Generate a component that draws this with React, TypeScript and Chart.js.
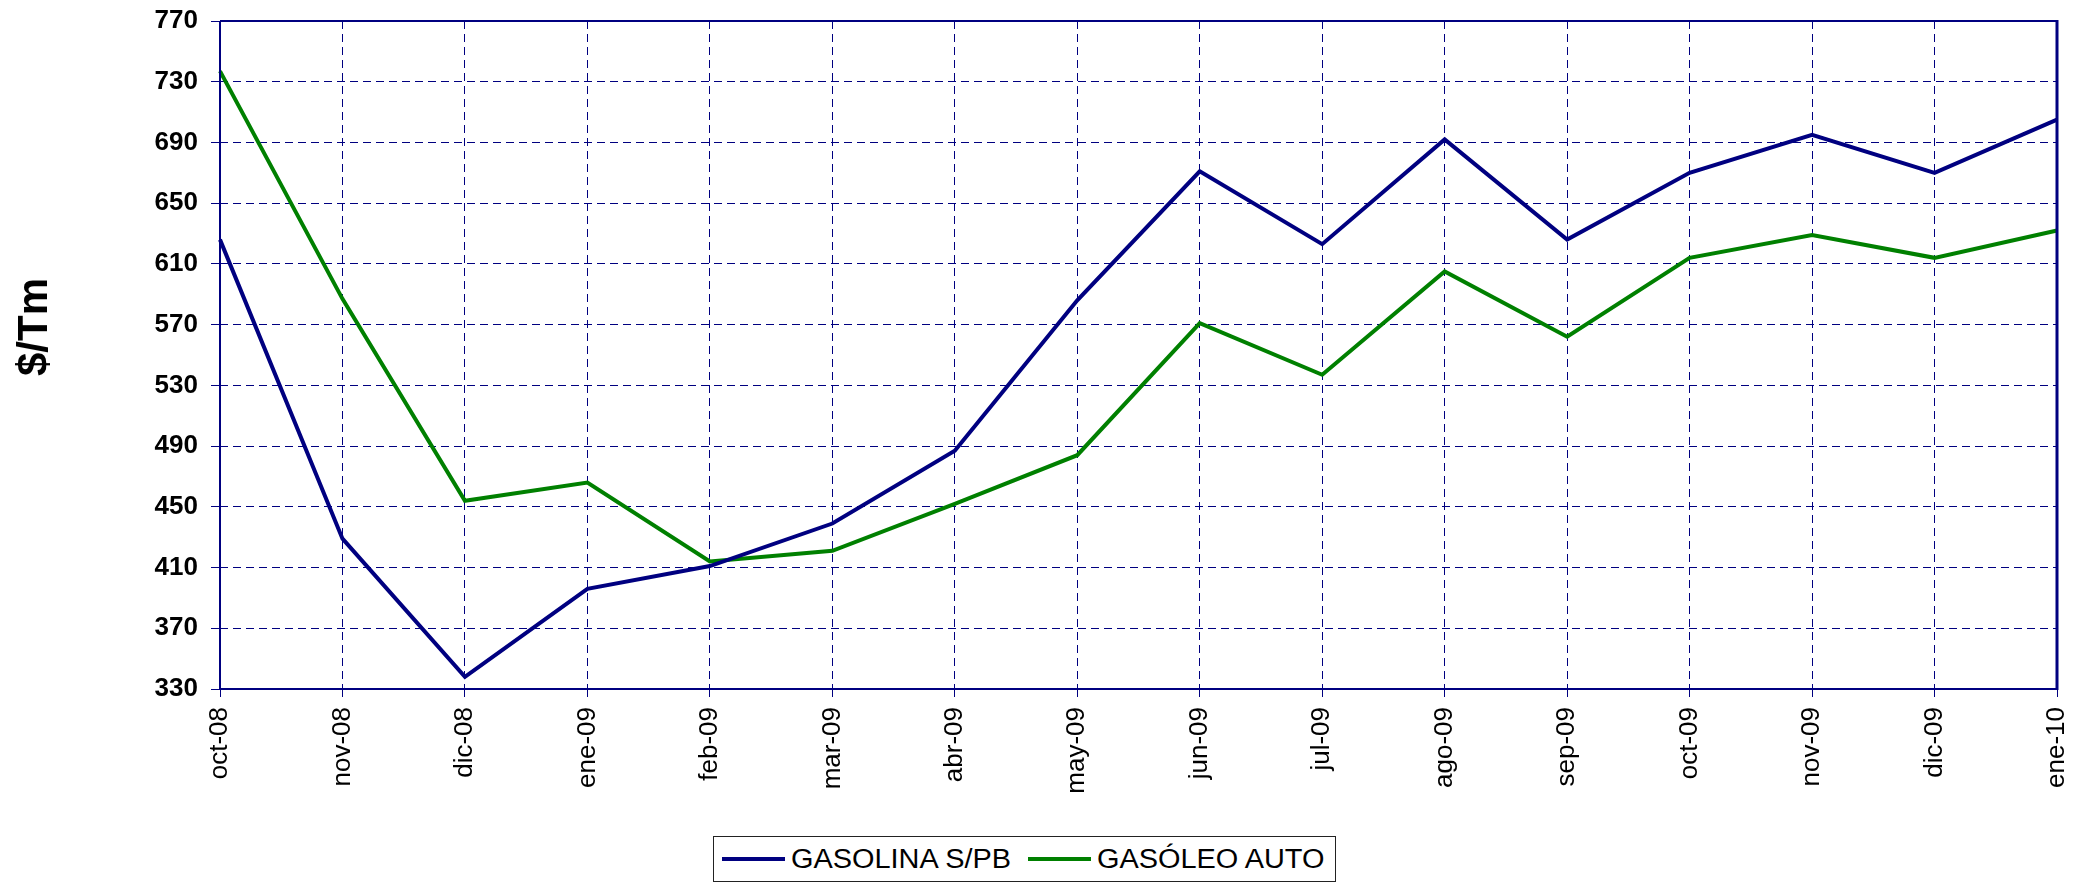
import React, { useEffect, useRef } from "react";
import { Chart, registerables } from "chart.js";

Chart.register(...registerables);

const categories = [
  "oct-08", "nov-08", "dic-08", "ene-09", "feb-09", "mar-09", "abr-09", "may-09",
  "jun-09", "jul-09", "ago-09", "sep-09", "oct-09", "nov-09", "dic-09", "ene-10",
];
const gasolinaLabel = "GASOLINA S/PB";
const gasoleoLabel = "GASÓLEO AUTO";
const gasolina = [626, 429, 338, 396, 411, 439, 487, 586, 671, 623, 692, 626, 670, 695, 670, 705];
const gasoleo = [737, 587, 454, 466, 414, 421, 452, 484, 571, 537, 605, 562, 614, 629, 614, 632];
const yMin = 330;
const yMax = 770;
const yStep = 40;
const yTitle = "$/Tm";

const NAVY = "#000080";
const GREEN = "#008000";
const FONT = "'Liberation Sans', Arial, sans-serif";

const framePlugin = {
  id: "frame",
  afterDatasetsDraw(chart: any) {
    const { ctx, chartArea } = chart;
    const { left, right, top, bottom } = chartArea;
    ctx.save();
    ctx.strokeStyle = NAVY;
    ctx.lineWidth = 2;
    ctx.beginPath();
    ctx.moveTo(left, top);
    ctx.lineTo(right, top);
    ctx.moveTo(left, top);
    ctx.lineTo(left, bottom);
    ctx.moveTo(left, bottom);
    ctx.lineTo(right, bottom);
    ctx.stroke();
    ctx.lineWidth = 3;
    ctx.beginPath();
    ctx.moveTo(right, top - 1);
    ctx.lineTo(right, bottom + 1);
    ctx.stroke();
    ctx.restore();
  },
};

export default function App() {
  const ref = useRef<HTMLCanvasElement | null>(null);

  useEffect(() => {
    document.body.style.margin = "0";
    const canvas = ref.current;
    if (!canvas) return;
    const chart = new Chart(canvas, {
      type: "line",
      data: {
        labels: categories,
        datasets: [
          {
            label: gasolinaLabel,
            data: gasolina,
            borderColor: NAVY,
            backgroundColor: NAVY,
            borderWidth: 4,
            pointRadius: 0,
            tension: 0,
          },
          {
            label: gasoleoLabel,
            data: gasoleo,
            borderColor: GREEN,
            backgroundColor: GREEN,
            borderWidth: 4,
            pointRadius: 0,
            tension: 0,
          },
        ],
      },
      options: {
        responsive: false,
        animation: false,
        devicePixelRatio: 1,
        layout: { padding: { left: 0, right: 21, top: 21, bottom: 0 } },
        plugins: {
          legend: { display: false },
          tooltip: { enabled: false },
        },
        scales: {
          x: {
            type: "category",
            offset: false,
            afterFit: (scale: any) => {
              scale.height = 193;
              scale.paddingLeft = 0;
              scale.paddingRight = 0;
            },
            grid: {
              color: NAVY,
              lineWidth: 1,
              tickBorderDash: [],
              tickLength: 8,
              tickColor: NAVY,
              offset: false,
            },
            border: { display: false, dash: [8, 5] },
            ticks: {
              autoSkip: false,
              minRotation: 90,
              maxRotation: 90,
              color: "#000",
              padding: 10,
              font: { family: FONT, size: 26 },
            },
          },
          y: {
            min: yMin,
            max: yMax,
            afterFit: (scale: any) => {
              scale.width = 220;
              scale.paddingTop = 0;
              scale.paddingBottom = 0;
            },
            grid: {
              color: NAVY,
              lineWidth: 1,
              tickBorderDash: [],
              tickLength: 9,
              tickColor: NAVY,
            },
            border: { display: false, dash: [8, 5] },
            ticks: {
              stepSize: yStep,
              color: "#000",
              padding: 13,
              font: { family: FONT, size: 26, weight: "bold" },
            },
          },
        },
      },
      plugins: [framePlugin],
    } as any);
    return () => chart.destroy();
  }, []);

  const legendText: React.CSSProperties = {
    position: "absolute",
    top: 0,
    height: 44,
    lineHeight: "44px",
    fontFamily: FONT,
    fontSize: 27,
    color: "#000",
    whiteSpace: "nowrap",
    transform: "scaleX(1.07)",
    transformOrigin: "left center",
  };
  const legendLine: React.CSSProperties = {
    position: "absolute",
    top: 20,
    width: 63,
    height: 4,
  };

  return (
    <div style={{ position: "fixed", left: 0, top: 0, width: 2078, height: 882, background: "#fff" }}>
      <canvas ref={ref} width={2078} height={882} style={{ display: "block" }} />
      <div
        style={{
          position: "absolute",
          left: 33,
          top: 327,
          transform: "translate(-50%, -50%) rotate(-90deg)",
          fontFamily: FONT,
          fontWeight: "bold",
          fontSize: 42,
          color: "#000",
          whiteSpace: "nowrap",
        }}
      >
        {yTitle}
      </div>
      <div
        style={{
          position: "absolute",
          left: 713,
          top: 836,
          width: 623,
          height: 46,
          boxSizing: "border-box",
          border: "1px solid #222",
          background: "#fff",
        }}
      >
        <div style={{ ...legendLine, left: 8, background: NAVY }} />
        <div style={{ ...legendText, left: 77 }}>{gasolinaLabel}</div>
        <div style={{ ...legendLine, left: 314, background: GREEN }} />
        <div style={{ ...legendText, left: 383 }}>{gasoleoLabel}</div>
      </div>
    </div>
  );
}
